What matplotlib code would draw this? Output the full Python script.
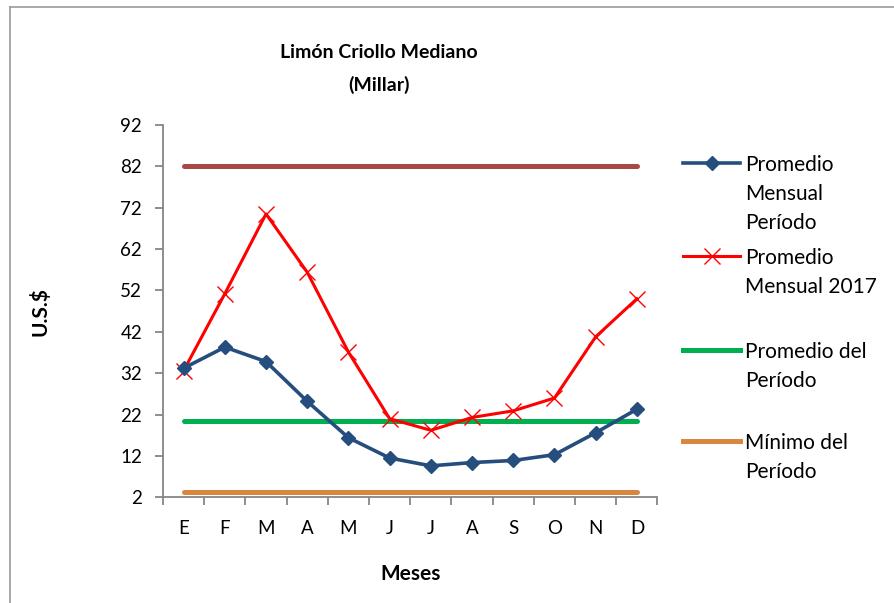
import matplotlib.pyplot as plt
from matplotlib.lines import Line2D
import numpy as np

plt.rcParams['font.family'] = ['Lato', 'DejaVu Sans']

meses = ["E", "F", "M", "A", "M", "J", "J", "A", "S", "O", "N", "D"]
prom_mensual_periodo = [33.2, 38.3, 34.8, 25.2, 16.4, 11.5, 9.6, 10.4, 10.9, 12.3, 17.6, 23.3]
prom_mensual_2017 = [32.6, 51.2, 70.5, 56.4, 37.1, 21.0, 18.2, 21.3, 22.9, 26.0, 40.8, 50.0]
maximo_periodo = 82.0
promedio_periodo = 20.4
minimo_periodo = 3.4
yticks = [2, 12, 22, 32, 42, 52, 62, 72, 82, 92]

c_blue = "#254E7E"
c_red = "#FF0000"
c_maroon = "#A84843"
c_green = "#00B050"
c_orange = "#D9873F"
c_axis = "#868686"

fig = plt.figure(figsize=(8.95, 6.03), dpi=100)
ax = fig.add_axes([163 / 895, 1 - 497.3 / 603, 494.5 / 895, (497.3 - 125) / 603])

x = np.arange(len(meses))
n = len(meses)
ax.plot(x, [maximo_periodo] * n, color=c_maroon, lw=3.6, solid_capstyle="round")
ax.plot(x, [promedio_periodo] * n, color=c_green, lw=3.6, solid_capstyle="round")
ax.plot(x, [minimo_periodo] * n, color=c_orange, lw=3.6, solid_capstyle="round")
ax.plot(x, prom_mensual_2017, color=c_red, lw=2.2, marker="x", ms=12, mew=1.0)
ax.plot(x, prom_mensual_periodo, color=c_blue, lw=2.6, marker="D", ms=7)

ax.set_xlim(-0.5, n - 0.5)
ax.set_ylim(2, 92)
ax.set_yticks(yticks)
ax.set_xticks(x)
ax.set_xticklabels(meses, fontsize=13.5)
ax.set_xticks(np.arange(-0.5, n, 1), minor=True)
ax.tick_params(axis="x", which="major", length=0, pad=16)
ax.tick_params(axis="x", which="minor", length=6, width=1.3, color=c_axis, direction="out")
ax.tick_params(axis="y", length=6, width=1.3, color=c_axis, direction="out", labelsize=13.5, pad=9)

for s in ["top", "right"]:
    ax.spines[s].set_visible(False)
for s in ["left", "bottom"]:
    ax.spines[s].set_color(c_axis)
    ax.spines[s].set_linewidth(1.3)

ax.set_xlabel("Meses", fontsize=15, fontweight="bold", labelpad=20)
ax.set_ylabel("U.S.$", fontsize=15, fontweight="bold", labelpad=50)

fig.text(379 / 895, 1 - 69 / 603, "Limón Criollo Mediano\n(Millar)", ha="center", va="center",
         fontsize=14, fontweight="bold", linespacing=2.0)

# legend drawn by hand so the key sits on the first text line
entries = [
    (163, "Promedio\nMensual\nPeríodo", dict(color=c_blue, lw=2.6, marker="D", ms=7)),
    (256, "Promedio\nMensual 2017", dict(color=c_red, lw=2.2, marker="x", ms=12, mew=1.0)),
    (350, "Promedio del\nPeríodo", dict(color=c_green, lw=3.6)),
    (441, "Mínimo del\nPeríodo", dict(color=c_orange, lw=3.6)),
]
for ypx, label, style in entries:
    yy = 1 - ypx / 603
    fig.add_artist(Line2D([683 / 895, 712 / 895, 740 / 895], [yy, yy, yy],
                          markevery=[1] if "marker" in style else None, **style))
    fig.text(745 / 895, yy + 8 / 603, label, ha="left", va="top", fontsize=15, linespacing=1.55)

# chart frame (cut at right and bottom)
fig.add_artist(Line2D([10 / 895, 10 / 895], [0, 1 - 7 / 603], color="#9a9a9a", lw=1.2))
fig.add_artist(Line2D([10 / 895, 1], [1 - 7 / 603, 1 - 7 / 603], color="#9a9a9a", lw=1.2))

fig.savefig("out.png", dpi=100)
